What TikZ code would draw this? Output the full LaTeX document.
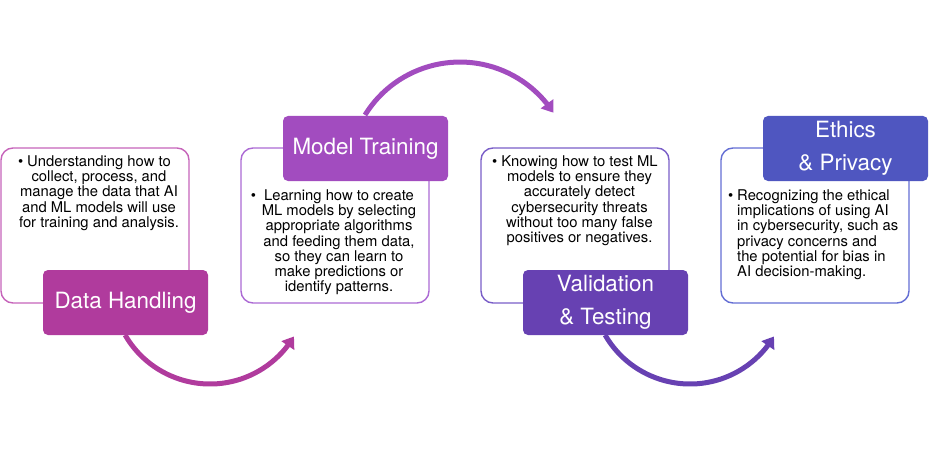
\documentclass[tikz,border=0pt]{standalone}
\usepackage{fontspec}
\setmainfont{TeX Gyre Heros}
\usetikzlibrary{arrows.meta,bending}
\definecolor{dhC}{RGB}{176,59,157}
\definecolor{mtC}{RGB}{162,76,191}
\definecolor{vtC}{RGB}{103,65,178}
\definecolor{epC}{RGB}{79,86,192}
\definecolor{dhL}{RGB}{198,100,186}
\definecolor{mtL}{RGB}{172,106,212}
\definecolor{vtL}{RGB}{122,94,200}
\definecolor{epL}{RGB}{100,110,212}
\tikzset{
  textbox/.style={draw=#1, line width=1.4pt, fill=white, rounded corners=12pt,
    minimum width=188pt, minimum height=155pt, inner sep=0pt},
  labelbox/.style={fill=#1, rounded corners=5pt, minimum width=165pt, minimum height=65pt,
    inner sep=0pt, text=white, align=center,
    font=\fontsize{22.4}{33}\selectfont},
  bodytext/.style={inner sep=0pt, text=black, font=\fontsize{14.8}{15.2}\selectfont},
  flow/.style={draw=#1, line width=5pt, -{Triangle[length=11pt,width=15pt]}}
}
\begin{document}
\begin{tikzpicture}[x=1pt,y=-1pt]
\useasboundingbox (0,0) rectangle (930,452);
% text boxes
\node[textbox=dhL] (tb1) at (95,225.5) {};
\node[textbox=mtL] (tb2) at (335,225.5) {};
\node[textbox=vtL] (tb3) at (575,225.5) {};
\node[textbox=epL] (tb4) at (815,225.5) {};
% arrow coordinates
\coordinate (a1s) at (125.1,335);
\coordinate (a2s) at (365,115);
\coordinate (a3s) at (605.1,335);
% arrows
\draw[flow=dhC] (a1s) arc[start angle=150, end angle=31, radius=98];
\draw[flow=mtC] (a2s) arc[start angle=211.7, end angle=326.9, radius=111.6];
\draw[flow=vtC] (a3s) arc[start angle=150, end angle=31, radius=98];
% label boxes
\node[labelbox=dhC] (l1) at (125.5,302.5) {Data Handling};
\node[labelbox=mtC] (l2) at (365.5,148.5) {Model Training};
\node[labelbox=vtC] (l3) at (605.5,302.5) {Validation\\\& Testing};
\node[labelbox=epC] (l4) at (845.5,148.5) {Ethics\\\& Privacy};
% body texts
\node[bodytext, align=center, anchor=north] (t1) at (99,155.5)
  {\llap{•\hspace{4pt}}Understanding how to\\collect, process, and\\manage the data that AI\\and ML models will use\\for training and analysis.};
\node[bodytext, align=center, anchor=north] (t2) at (339,189.5)
  {\llap{•\hspace{8pt}}Learning how to create\\ML models by selecting\\appropriate algorithms\\and feeding them data,\\so they can learn to\\make predictions or\\identify patterns.};
\node[bodytext, align=center, anchor=north] (t3) at (579.5,155.5)
  {\llap{•\hspace{4pt}}Knowing how to test ML\\models to ensure they\\accurately detect\\cybersecurity threats\\without too many false\\positives or negatives.};
\node[bodytext, align=left, anchor=north west] (t4) at (737,189.5)
  {\llap{•\hspace{4pt}}Recognizing the ethical\\implications of using AI\\in cybersecurity, such as\\privacy concerns and\\the potential for bias in\\AI decision-making.};
\end{tikzpicture}
\end{document}
